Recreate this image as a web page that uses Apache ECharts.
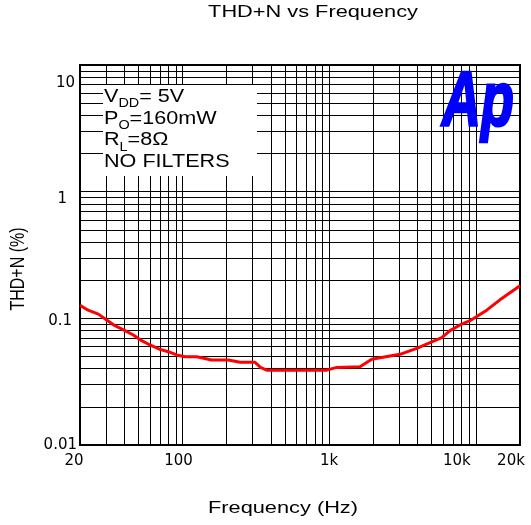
<!DOCTYPE html>
<html>
<head>
<meta charset="utf-8">
<script src="https://cdn.jsdelivr.net/npm/echarts@6/dist/echarts.min.js"></script>
<style>html,body{margin:0;padding:0;background:#fff}#c{width:531px;height:525px}</style>
</head>
<body>
<div id="c"></div>
<script>
// ---- data ----
const freqHz = [20, 22.7, 26.7, 30.4, 34.6, 40.5, 46.2, 52.7, 60, 70.2, 80, 91.3, 104, 125, 158, 205, 247, 312, 340, 375, 962, 1125, 1623, 1950, 3040, 3953, 5850, 6670, 7800, 9120, 11860, 14600, 20000];
const thdN   = [0.127, 0.116, 0.108, 0.097, 0.0875, 0.080, 0.0738, 0.0666, 0.0616, 0.0569, 0.0545, 0.0514, 0.0498, 0.0498, 0.0469, 0.0469, 0.045, 0.045, 0.041, 0.039, 0.039, 0.041, 0.0415, 0.0475, 0.052, 0.058, 0.0703, 0.080, 0.0886, 0.0958, 0.116, 0.140, 0.181];
const xTickValues = [20, 100, 1000, 10000, 20000];
const xTickLabels = ['20', '100', '1k', '10k', '20k'];
const yTickValues = [0.01, 0.1, 1, 10];
const yTickLabels = ['0.01', '0.1', '1', '10'];
const xGridValues = [30,40,50,60,70,80,90,100,200,300,400,500,600,700,800,900,1000,2000,3000,4000,5000,6000,7000,8000,9000,10000];
const yGridValues = [0.02,0.03,0.04,0.05,0.06,0.07,0.08,0.09,0.1,0.2,0.3,0.4,0.5,0.6,0.7,0.8,0.9,1,2,3,4,5,6,7,8,9];
const titleText = 'THD+N vs Frequency';
const xName = 'Frequency (Hz)';
const yName = 'THD+N (%)';
const noteLines = [['V', 'DD', '= 5V'], ['P', 'O', '=160mW'], ['R', 'L', '=8Ω'], ['NO FILTERS', '', '']];

// ---- styles ----
const FONT = 'Liberation Sans, Arial, sans-serif';
const TICKFONT = 'DejaVu Sans, sans-serif';
const xShift = [12, 8, 0, 38, 18];           // padding-right per x tick label
const yShift = [[0, 0], [6, 5], [14, 10], [36, 2]]; // [padTop, padRight] per y tick label

function nearestIdx(vals, v) {
  let best = 0, bd = Infinity;
  vals.forEach((t, i) => { const d = Math.abs(Math.log10(t) - Math.log10(v)); if (d < bd) { bd = d; best = i; } });
  return best;
}
const xRich = {}, yRich = {};
xTickLabels.forEach((l, i) => { xRich['x' + i] = { fontFamily: TICKFONT, fontSize: 15, color: '#000', padding: [0, xShift[i], 0, 0] }; });
yTickLabels.forEach((l, i) => { yRich['y' + i] = { fontFamily: TICKFONT, fontSize: 15, color: '#000', padding: [yShift[i][0], yShift[i][1], 0, 0] }; });

const noteText = noteLines.map(l => '{n|' + l[0] + '}' + (l[1] ? '{s|' + l[1] + '}' : '') + (l[2] ? '{n|' + l[2] + '}' : '')).join('\n');

const chart = echarts.init(document.getElementById('c'), null, { renderer: 'canvas' });
chart.setOption({
  animation: false,
  backgroundColor: '#fff',
  grid: { left: 80, right: 11, top: 65, bottom: 80, show: true, borderColor: '#000', borderWidth: 2, backgroundColor: 'transparent' },
  xAxis: {
    type: 'log', logBase: 10, min: 20, max: 20000,
    axisLine: { show: true, lineStyle: { color: '#000', width: 2 } },
    axisTick: { show: false },
    splitLine: { show: false },
    axisLabel: {
      show: true, margin: 9, showMinLabel: true, showMaxLabel: true,
      formatter: v => { const i = nearestIdx(xTickValues, v); return '{x' + i + '|' + xTickLabels[i] + '}'; },
      rich: xRich
    }
  },
  yAxis: {
    type: 'log', logBase: 10, min: 0.01, max: 10,
    axisLine: { show: true, lineStyle: { color: '#000', width: 2 } },
    axisTick: { show: false },
    splitLine: { show: false },
    axisLabel: {
      show: true, margin: 3, showMinLabel: true, showMaxLabel: true,
      formatter: v => { const i = nearestIdx(yTickValues, v); return '{y' + i + '|' + yTickLabels[i] + '}'; },
      rich: yRich
    }
  },
  series: [
    {
      type: 'line', name: 'grid', data: [], z: 1, silent: true,
      markLine: {
        silent: true, symbol: ['none', 'none'], animation: false,
        label: { show: false },
        emphasis: { disabled: true },
        lineStyle: { color: '#000', width: 1, type: 'solid' },
        data: xGridValues.map(v => ({ xAxis: v })).concat(yGridValues.map(v => ({ yAxis: v })))
      }
    },
    {
      type: 'line', name: 'THD+N', z: 5, showSymbol: false, smooth: false,
      data: freqHz.map((f, i) => [f, thdN[i]]),
      lineStyle: { color: '#ff0000', width: 3 },
      itemStyle: { color: '#ff0000' }
    }
  ],
  graphic: [
    { type: 'rect', z: 50, shape: { x: 103, y: 85, width: 154, height: 91 }, style: { fill: '#fff' } },
    { type: 'text', z: 51, x: 104, y: 86, scaleX: 1.2,
      style: { text: noteText, verticalAlign: 'top', align: 'left',
        rich: { n: { fontFamily: FONT, fontSize: 18, lineHeight: 21.7, fill: '#000' },
                s: { fontFamily: FONT, fontSize: 12, lineHeight: 6, padding: [14, 0, 0, 0], fill: '#000' } } } },
    { type: 'text', z: 51, x: 442, y: 105, scaleX: 0.7,
      style: { text: 'Ap', font: 'italic bold 77px ' + FONT, fill: '#0000ff', stroke: '#0000ff', lineWidth: 2.5, align: 'left', verticalAlign: 'middle' } },
    { type: 'text', z: 51, x: 313, y: 13, scaleX: 1.36,
      style: { text: titleText, font: '16px ' + FONT, fill: '#000', align: 'center', verticalAlign: 'middle' } },
    { type: 'text', z: 51, x: 283, y: 509, scaleX: 1.36,
      style: { text: xName, font: '16px ' + FONT, fill: '#000', align: 'center', verticalAlign: 'middle' } },
    { type: 'text', z: 51, x: 18, y: 269, rotation: Math.PI / 2, scaleY: 1.3,
      style: { text: yName, font: '16px ' + FONT, fill: '#000', align: 'center', verticalAlign: 'middle' } }
  ]
});
</script>
</body>
</html>
